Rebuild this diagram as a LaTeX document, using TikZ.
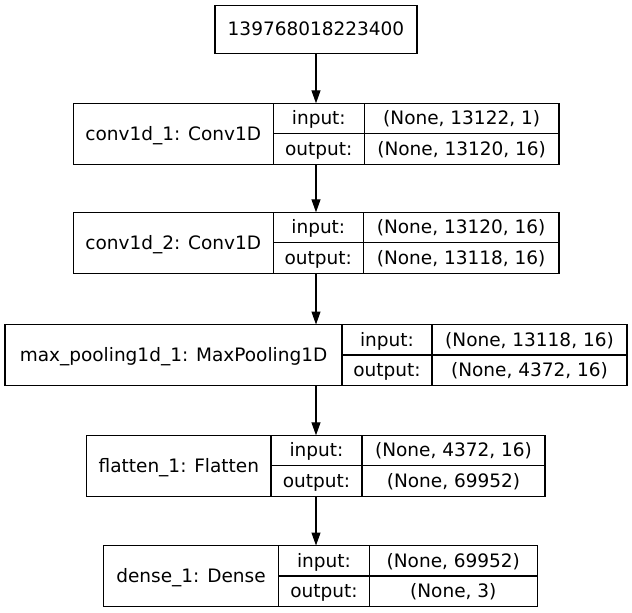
\documentclass[tikz,border=0pt]{standalone}
\usepackage{fontspec}
\setmainfont{DejaVu Sans}
\usetikzlibrary{arrows.meta}
\newcommand\lay[9]{%
  % #1 name, #2 x0, #3 x1, #4 x2, #5 x3, #6 ytop, #7 label, #8 input, #9 output
  \node[cell, minimum width={#5-#2}, minimum height=61] (#1) at (#2,#6) {};
  \node[cell, txt, minimum width={#3-#2}, minimum height=61] (#1-l) at (#2,#6) {#7};
  \node[cell, txt, minimum width={#4-#3}, minimum height=30.5] (#1-ik) at (#3,#6) {input:};
  \node[cell, txt, minimum width={#4-#3}, minimum height=30.5] (#1-ok) at (#3,{#6+30.5}) {output:};
  \node[cell, txt, minimum width={#5-#4}, minimum height=30.5] (#1-iv) at (#4,#6) {#8};
  \node[cell, txt, minimum width={#5-#4}, minimum height=30.5] (#1-ov) at (#4,{#6+30.5}) {#9};
}
\begin{document}
\begin{tikzpicture}[x=1pt,y=-1pt,line width=1.2pt,
  cell/.style={draw, inner sep=0pt, outer sep=0pt, anchor=north west},
  txt/.style={font=\fontsize{18.5}{22}\selectfont, text height=13.5pt, text depth=1pt},
  conn/.style={-{Triangle[length=13pt,width=9pt]}}]
\useasboundingbox (0,0) rectangle (632,613);
\node[cell, txt, minimum width=202, minimum height=47.6] (top) at (215,5.7) {139768018223400};
\lay{c1}{73.3}{273.3}{364.3}{559}{103.3}{conv1d\_1: Conv1D}{(None, 13122, 1)}{(None, 13120, 16)}
\lay{c2}{73.3}{273.3}{363.3}{559}{212.3}{conv1d\_2: Conv1D}{(None, 13120, 16)}{(None, 13118, 16)}
\lay{mp}{5}{342}{432}{627}{324.5}{max\_pooling1d\_1: MaxPooling1D}{(None, 13118, 16)}{(None, 4372, 16)}
\lay{fl}{86.7}{271}{362}{545}{435.3}{flatten\_1: Flatten}{(None, 4372, 16)}{(None, 69952)}
\lay{de}{103.3}{278.7}{369.3}{537.3}{545.5}{dense\_1: Dense}{(None, 69952)}{(None, 3)}
\draw[conn] (top.south) -- (top.south |- c1.north);
\draw[conn] (top.south |- c1.south) -- (top.south |- c2.north);
\draw[conn] (top.south |- c2.south) -- (top.south |- mp.north);
\draw[conn] (top.south |- mp.south) -- (top.south |- fl.north);
\draw[conn] (top.south |- fl.south) -- (top.south |- de.north);
\end{tikzpicture}
\end{document}
